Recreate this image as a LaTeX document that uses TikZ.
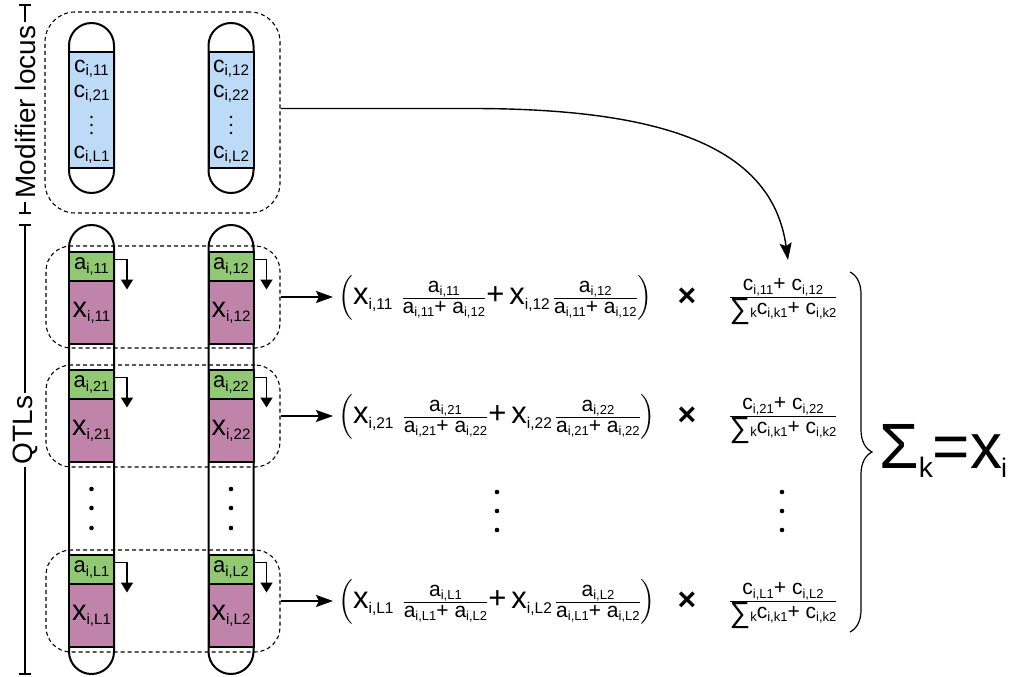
\documentclass[tikz,border=0pt]{standalone}
\usepackage{amsmath}
\usepackage{fontspec}
\setmainfont{Liberation Sans}
\usetikzlibrary{arrows.meta,decorations.pathreplacing,calc}
\definecolor{locgreen}{HTML}{90C972}
\definecolor{locpurple}{HTML}{C084AA}
\definecolor{locblue}{HTML}{BDDBF7}
% lowered, shrunk index
\newcommand\sub[2][0.62]{\raisebox{-0.15em}{\scalebox{#1}{#2}}}
\newcommand\fm{\fontsize{31}{33}\selectfont}
\newcommand\fa{\fontsize{21}{23}\selectfont}
\newcommand\fc{\fontsize{21}{23}\selectfont}
\newcommand\bigsum{\raisebox{-0.2em}{\fontsize{29}{29}\selectfont ∑}}
\newcommand\wfrac[2]{\genfrac{}{}{0.9pt}{1}{#1}{#2}}
\newcommand\mixterm[3]{\wfrac{\mbox{\fa a\sub{i,#1}}}{\mbox{\fa a\sub{i,#2}+ a\sub{i,#3}}}}
\newcommand\weighted[2]{\fm$\left(\mbox{x\sub[0.5]{i,#1}}\hspace{9pt}\mixterm{#1}{#1}{#2}\mbox{+}\hspace{5pt}\mbox{x\sub[0.5]{i,#2}}\hspace{3pt}\mixterm{#2}{#1}{#2}\right)$}
\newcommand\share[2]{\fc$\wfrac{\mbox{c\sub{i,#1}+ c\sub{i,#2}}}{\mbox{\bigsum\sub{k}c\sub{i,k1}+ c\sub{i,k2}}}$}

\tikzset{
  chromo/.style={draw, line width=2pt, fill=white, rounded corners=22.5pt,
    minimum width=45pt, inner sep=0pt},
  band/.style={draw, line width=2pt, minimum width=45pt, inner sep=0pt},
  locusbox/.style={draw, dashed, dash pattern=on 4pt off 3pt, line width=1.1pt,
    rounded corners=25pt, minimum width=234pt, inner sep=0pt},
  conn/.style={line width=1.4pt, -{Stealth[length=17pt,width=12pt,inset=3pt]}},
  smallarr/.style={line width=1.8pt, -{Triangle[length=10pt,width=12pt]}},
  sidelabel/.style={rotate=90, inner sep=3pt, font=\fontsize{28}{30}\selectfont},
}

\begin{document}
\begin{tikzpicture}[x=1pt,y=-1pt]
\useasboundingbox (0,0) rectangle (1015,677);

% ---------- modifier locus ----------
\foreach \cx/\k in {91.5/1, 231/2} {
  \node[chromo, minimum height=170pt] (m\k) at (\cx,108) {};
  \node[band, fill=locblue, minimum height=116pt] (mc\k) at (\cx,110) {};
  \node[inner sep=0pt] (c1\k) at (\cx,69) {\fontsize{23}{25}\selectfont c\sub[0.66]{i,1\k}};
  \node[inner sep=0pt] (c2\k) at (\cx,94) {\fontsize{23}{25}\selectfont c\sub[0.66]{i,2\k}};
  \node[inner sep=0pt] (cL\k) at (\cx,155) {\fontsize{23}{25}\selectfont c\sub[0.66]{i,L\k}};
  \foreach \dy in {117,125,133} \fill (\cx,\dy) circle (1.3pt);
}
\node[locusbox, rounded corners=30pt, minimum width=235pt, minimum height=201pt] (mod) at (162.5,112.5) {};

% ---------- QTL chromosomes ----------
\foreach \cx/\k in {91.5/1, 231/2} {
  \node[chromo, minimum height=449pt] (q\k) at (\cx,449.5) {};
  \foreach \r/\ya/\yx in {1/266.5/312.5, 2/384.5/430.5, L/569.5/615.5} {
    \node[band, fill=locgreen, minimum height=29pt] (a\r\k) at (\cx,\ya)
      {\fontsize{22}{24}\selectfont a\sub[0.66]{i,\r\k}};
    \node[band, fill=locpurple, minimum height=63pt] (x\r\k) at (\cx,\yx)
      {\fontsize{29}{31}\selectfont x\sub[0.52]{i,\r\k}};
    \draw[smallarr] ([yshift=7pt]a\r\k.east) -- ++(12,0) -- ++(0,30);
  }
  \foreach \dy in {489,508,528} \fill (\cx,\dy) circle (2.3pt);
}

% ---------- QTL groups and their weighted contributions ----------
\foreach \r/\y/\rr in {1/297/1, 2/416/2, L/601/L} {
  \node[locusbox, minimum height=102pt] (g\r) at (163,\y) {};
  \node[anchor=base west, inner xsep=5pt, inner ysep=0pt] (eq\r) at (333,\y+7.5) {\weighted{\rr1}{\rr2}};
  \draw[conn] (g\r.east) -- (g\r.east -| eq\r.west);
  \node[inner sep=0pt] (times\r) at (687,\y) {\fontsize{32}{32}\selectfont\bfseries ×};
  \node[anchor=base, inner sep=0pt] (cf\r) at (783,\y+5.25) {\share{\rr1}{\rr2}};
}
\foreach \dx in {497,782}
  \foreach \dy in {492,511,530} \fill (\dx,\dy) circle (2.3pt);

% ---------- modifier weights feed the shares ----------
\coordinate (modin) at (788,260);
\draw[conn] ([yshift=4pt]mod.east) -- (467,108.5) .. controls (660,108) and (772,145) .. (modin);

% ---------- sum over loci ----------
\coordinate (btop) at (850,272);
\coordinate (bbot) at (850,632);
\draw[line width=1.2pt, decorate, decoration={brace, amplitude=22pt}] (btop) -- (bbot);
\node[anchor=base west, inner sep=0pt] (total) at (879,468)
  {\fontsize{64}{70}\selectfont Σ\sub[0.44]{k}\hspace{0pt}=\hspace{0pt}x\kern-1pt\sub[0.42]{i}};

% ---------- side labels ----------
\node[sidelabel] (mlab) at (25,112) {Modifier locus};
\coordinate (mtop) at (25,5);
\coordinate (mbot) at (25,213);
\draw[line width=1.2pt] (mlab.east) -- (mtop) (mlab.west) -- (mbot)
  ([xshift=-6pt]mtop) -- ([xshift=6pt]mtop) ([xshift=-6pt]mbot) -- ([xshift=6pt]mbot);

\node[sidelabel] (qlab) at (25,430) {QTLs};
\coordinate (qtop) at (25,225);
\coordinate (qbot) at (25,674);
\draw[line width=1.2pt] (qlab.east) -- (qtop) (qlab.west) -- (qbot)
  ([xshift=-6pt]qtop) -- ([xshift=6pt]qtop) ([xshift=-6pt]qbot) -- ([xshift=6pt]qbot);
\end{tikzpicture}
\end{document}
